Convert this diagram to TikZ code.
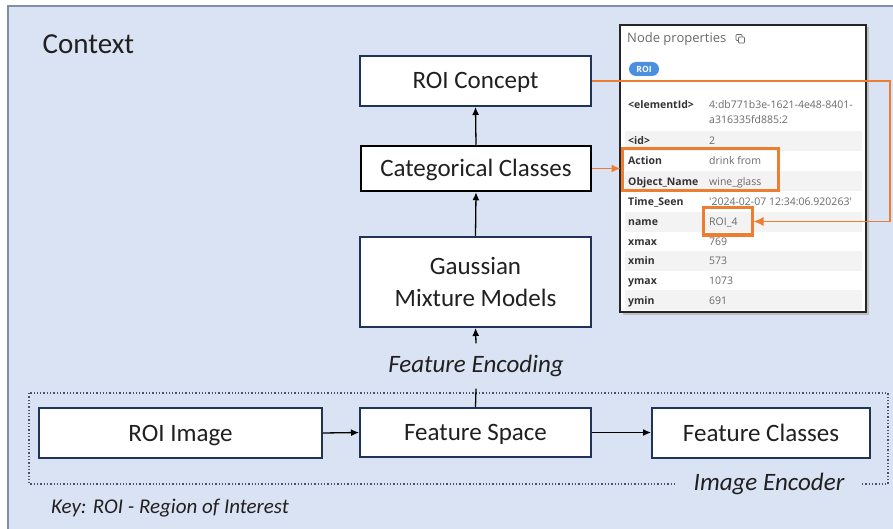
\documentclass[tikz,border=0pt]{standalone}
\usepackage{fontspec}
\setmainfont{Carlito}
\newfontfamily\panelfont{Open Sans}
\usetikzlibrary{arrows.meta}

\definecolor{bgblue}{HTML}{DAE3F3}
\definecolor{frameline}{HTML}{7F8FA9}
\definecolor{navy}{HTML}{1F3458}
\definecolor{slate}{HTML}{44546A}
\definecolor{annot}{HTML}{ED7D31}
\definecolor{txt}{HTML}{202020}
\definecolor{keytxt}{HTML}{333333}
\definecolor{valtxt}{HTML}{6A6A6A}
\definecolor{rowgray}{HTML}{F3F3F3}
\definecolor{pill}{HTML}{4A8FE0}

\tikzset{
  procbox/.style={draw=navy, line width=2pt, fill=white, inner sep=0pt,
    text=txt, font=\fontsize{25}{32}\selectfont, align=center},
  oneline/.style={text height=16pt, text depth=0pt},
  flow/.style={draw=black, line width=1.3pt, -{Latex[length=8pt,width=7pt]}},
  plainline/.style={draw=black, line width=1.3pt},
  italiclabel/.style={text=txt, font=\fontsize{25}{30}\selectfont\itshape, inner sep=0pt},
  hilite/.style={draw=annot, line width=3pt, inner sep=0pt},
  annotline/.style={draw=annot, line width=1.5pt},
  propkey/.style={anchor=base west, inner sep=0pt, text=keytxt,
    font=\panelfont\fontsize{10.5}{12}\selectfont\bfseries},
  propval/.style={anchor=base west, inner sep=0pt, text=valtxt,
    font=\panelfont\fontsize{10.5}{12}\selectfont},
}

\begin{document}
\begin{tikzpicture}[x=1pt, y=-1pt]
\useasboundingbox (0,0) rectangle (893,529);
\clip (0,0) rectangle (893,529);

% outer context frame
\fill[white] (0,0) rectangle (893,529);
\draw[fill=bgblue, draw=frameline, line width=1.6pt] (8,6) rectangle (910,545);
\node[anchor=base west, inner sep=0pt, text=txt, font=\fontsize{29}{34}\selectfont] (ctx) at (42.5,54) {Context};

% image encoder group
\draw[slate, line width=1.3pt, dotted] (29,393) rectangle (888,484);
\node[italiclabel, fill=bgblue, inner xsep=18pt, inner ysep=3pt, anchor=base] (enc) at (769,490) {Image Encoder};

% processing boxes
\node[procbox, oneline, minimum width=231pt, minimum height=50pt] (rc) at (475.5,81) {ROI Concept};
\node[procbox, oneline, draw=black, line width=2.5pt, minimum width=230pt, minimum height=45pt] (cc) at (476,168.5) {Categorical Classes};
\node[procbox, minimum width=231pt, minimum height=90pt] (gmm) at (475.5,282) {Gaussian\\Mixture Models};
\node[procbox, oneline, minimum width=231pt, minimum height=49pt] (fs) at (475.5,432.5) {Feature Space};
\node[procbox, oneline, minimum width=283pt, minimum height=50pt] (ri) at (180.5,433) {ROI Image};
\node[procbox, oneline, minimum width=218pt, minimum height=50pt] (fc) at (761,433) {Feature Classes};

\node[italiclabel, minimum height=45pt] (fe) at (476,366) {Feature Encoding};

% flow arrows
\draw[plainline] (fs.north) -- (fe.south);
\draw[flow] (fe.north) -- (gmm.south);
\draw[flow] (gmm.north) -- (cc.south);
\draw[flow] (cc.north) -- (rc.south);
\draw[flow] (ri.east) -- (fs.west);
\draw[flow] (fs.east) -- (fs.east -| fc.west);

% key
\node[anchor=base west, inner sep=0pt, text=txt, font=\fontsize{21}{25}\selectfont\itshape] (key) at (51,513) {Key: ROI - Region of Interest};

% node properties panel
\fill[black!25] (622.5,27.5) rectangle (868.5,314.5);
\node[draw=black!85, line width=1.3pt, fill=white, minimum width=246pt, minimum height=287pt, inner sep=0pt] (panel) at (743,168.5) {};
\node[anchor=base west, inner sep=0pt, text=valtxt, font=\panelfont\fontsize{13}{15}\selectfont] (ptitle) at (627,43) {Node properties};
% copy icon
\draw[valtxt, line width=0.7pt, rounded corners=0.8pt] (736,34.5) rectangle (742,40.5);
\draw[valtxt, line width=0.7pt, rounded corners=0.8pt, fill=white] (738.5,37) rectangle (744.5,43);
\node[fill=pill, rounded corners=7pt, minimum width=30pt, minimum height=14pt, inner sep=0pt,
  text=white, font=\panelfont\fontsize{8.5}{10}\selectfont\bfseries] (roipill) at (644,69) {ROI};

% alternating row shading
\foreach \c in {141,181.5,222,260.5,300}{
  \fill[rowgray] (625,\c-10) rectangle (862,\c+10);
}

\node[propkey] (k1) at (628,109) {<elementId>};
\node[propval] (v1) at (709,109) {4:db771b3e-1621-4e48-8401-};
\node[propval] (v1b) at (709,124) {a316335fd885:2};
\node[propkey] (k2) at (628,145) {<id>};
\node[propval] (v2) at (709,145) {2};
\node[propkey] (k3) at (628,165) {Action};
\node[propval] (v3) at (709,165) {drink from};
\node[propkey] (k4) at (628,185.5) {Object\_Name};
\node[propval] (v4) at (709,185.5) {wine\_glass};
\node[propkey] (k5) at (628,205.5) {Time\_Seen};
\node[propval] (v5) at (709,205.5) {'2024-02-07 12:34:06.920263'};
\node[propkey] (k6) at (628,225.5) {name};
\node[propval] (v6) at (709,225.5) {ROI\_4};
\node[propkey] (k7) at (628,245) {xmax};
\node[propval] (v7) at (709,245) {769};
\node[propkey] (k8) at (628,264) {xmin};
\node[propval] (v8) at (709,264) {573};
\node[propkey] (k9) at (628,284) {ymax};
\node[propval] (v9) at (709,284) {1073};
\node[propkey] (k10) at (628,304) {ymin};
\node[propval] (v10) at (709,304) {691};

% highlighted properties
\node[hilite, minimum width=156pt, minimum height=42pt] (actbox) at (700,170) {};
\node[hilite, minimum width=49pt, minimum height=27pt] (namebox) at (727.5,221.5) {};

% property links
\draw[annotline, -{Latex[length=9pt,width=8pt]}] (cc.east) -- (cc.east -| actbox.west);
\draw[annotline, -{Latex[length=10pt,width=9pt]}] (rc.east) -- ++(298,0) |- (namebox.east);
\end{tikzpicture}
\end{document}
